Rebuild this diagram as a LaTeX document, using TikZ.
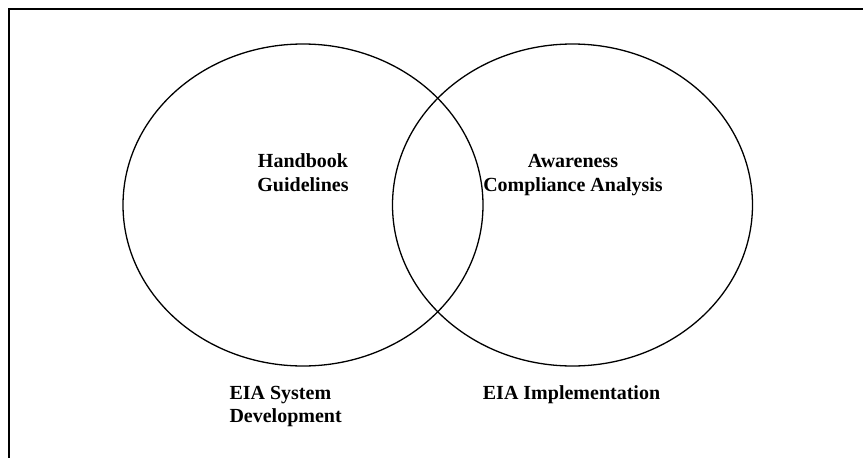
\documentclass[tikz,border=0pt]{standalone}
\usepackage{fontspec}
\setmainfont{Liberation Serif}
\usetikzlibrary{shapes.geometric}

\begin{document}
\begin{tikzpicture}[x=1pt,y=-1pt]
        \tikzstyle{region}=[ellipse,draw=black,line width=1.3pt,inner sep=0pt,minimum width=360pt,minimum height=322pt]
        \tikzstyle{label}=[inner sep=0pt,font=\fontsize{20}{24}\selectfont\bfseries]
        \tikzstyle{frame}=[draw=black,line width=2pt]
       \begin{scope}
         \useasboundingbox (0,0) rectangle (863,458);

         % open frame: left side and top only
         \coordinate (fb) at (8.5,458);
         \coordinate (ft) at (8.5,8.5);
         \coordinate (fr) at (863,8.5);
         \path[frame] (fb) -- (ft) -- (fr);

         \node [region] (sysdev) at (303,205) {};
         \node [region] (impl) at (572.5,205) {};

         % base of a two-line node is the baseline of its last line
         \node [label,align=center,anchor=base] (hb) at (303,191) {Handbook\\Guidelines};
         \node [label,align=center,anchor=base] (aw) at (573,191) {Awareness\\Compliance Analysis};
         \node [label,align=left,anchor=base west,font=\fontsize{20}{23}\selectfont\bfseries] (sd) at (229.3,422.7) {EIA System\\Development};
         \node [label,anchor=base west] (im) at (482.7,399) {EIA Implementation};

        \end{scope}
      \end{tikzpicture}
\end{document}
